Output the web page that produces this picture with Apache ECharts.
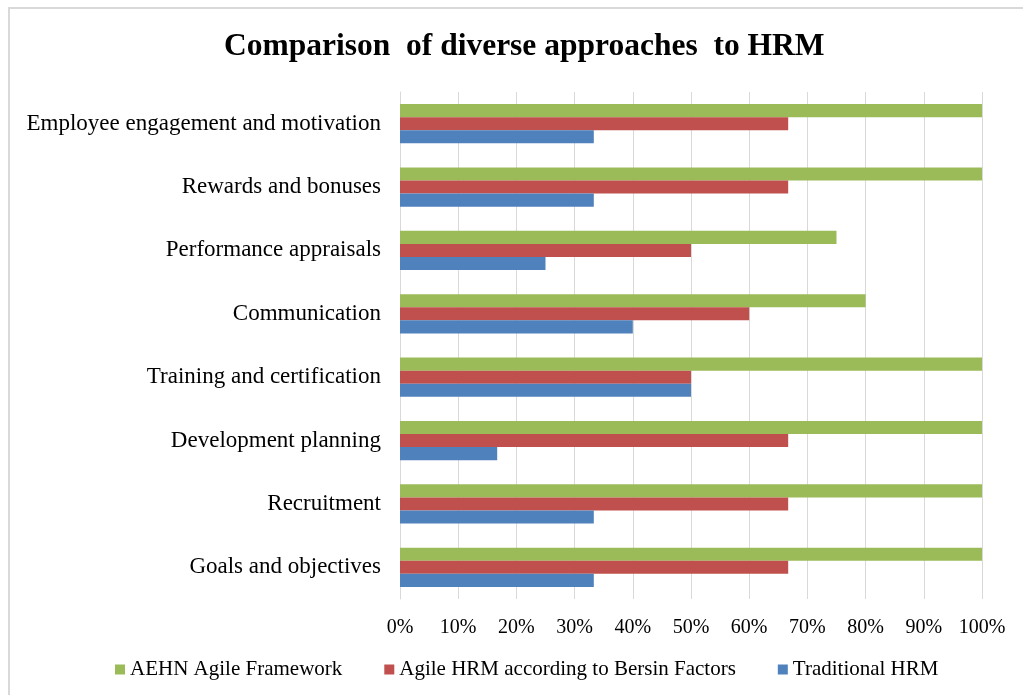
<!DOCTYPE html>
<html>
<head>
<meta charset="utf-8">
<script src="https://cdn.jsdelivr.net/npm/echarts@6/dist/echarts.min.js"></script>
<style>html,body{margin:0;padding:0;background:#fff;}#c{width:1023px;height:695px;}</style>
</head>
<body>
<div id="c"></div>
<script>
const categories = ['Goals and objectives','Recruitment','Development planning','Training and certification','Communication','Performance appraisals','Rewards and bonuses','Employee engagement and motivation'];
const traditional = [33.3, 33.3, 16.7, 50, 40, 25, 33.3, 33.3];
const agileBersin = [66.7, 66.7, 66.7, 50, 60, 50, 66.7, 66.7];
const aehn = [100, 100, 100, 100, 80, 75, 100, 100];
const seriesNames = ['AEHN Agile Framework', 'Agile HRM according to Bersin Factors', 'Traditional HRM'];
const titleText = 'Comparison  of diverse approaches  to HRM';

const chart = echarts.init(document.getElementById('c'));
const serif = '"Liberation Serif", "DejaVu Serif", serif';
chart.setOption({
  animation: false,
  title: {text: titleText, left: 219, top: 26, textStyle: {fontFamily: serif, fontSize: 31.5, fontWeight: 'bold', color: '#000'}},
  graphic: [{type: 'rect', shape: {x: 9, y: 8, width: 1100, height: 1000}, style: {fill: 'none', stroke: '#d9d9d9', lineWidth: 2}, silent: true}],
  legend: {data: seriesNames, bottom: 10, left: 110, itemWidth: 10, itemHeight: 10, itemGap: 42, icon: 'rect',
    textStyle: {fontFamily: serif, fontSize: 21, color: '#000'}},
  grid: {left: 400, right: 41, top: 92, bottom: 96, containLabel: false},
  xAxis: {type: 'value', min: 0, max: 100, interval: 10,
    axisLabel: {formatter: '{value}%', fontFamily: serif, fontSize: 20, color: '#000', margin: 19},
    splitLine: {lineStyle: {color: '#d9d9d9', width: 1}}, axisLine: {show: false}, axisTick: {show: false}},
  yAxis: {type: 'category', data: categories,
    axisLabel: {fontFamily: serif, fontSize: 23, color: '#000', margin: 19},
    axisLine: {lineStyle: {color: '#d9d9d9'}}, axisTick: {show: false}},
  series: [
    {name: seriesNames[0], type: 'bar', data: aehn, itemStyle: {color: '#9BBB59'}, barGap: '0%', barCategoryGap: '38%'},
    {name: seriesNames[1], type: 'bar', data: agileBersin, itemStyle: {color: '#C0504D'}, barGap: '0%', barCategoryGap: '38%'},
    {name: seriesNames[2], type: 'bar', data: traditional, itemStyle: {color: '#4F81BD'}, barGap: '0%', barCategoryGap: '38%'}
  ]
});
</script>
</body>
</html>
